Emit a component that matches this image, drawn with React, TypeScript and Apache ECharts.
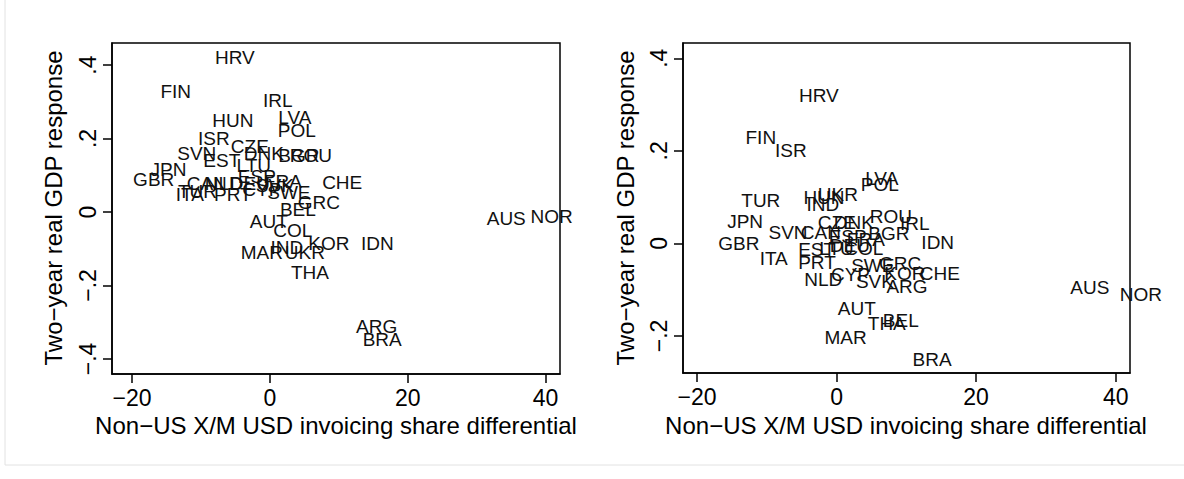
import React, { useEffect, useRef } from "react";
import * as echarts from "echarts";

// Left panel
const leftCountries = ["HRV","FIN","IRL","HUN","LVA","POL","ISR","CZE","SVN","EST","DNK","BGR","ROU","LTU","JPN","GBR","CAN","NLD","DEU","ESP","FRA","SVK","CYP","ITA","TUR","PRT","SWE","CHE","GRC","BEL","AUT","COL","IND","KOR","IDN","MAR","UKR","THA","ARG","BRA","AUS","NOR"];
const leftX = [-5.08,-13.65,1.16,-5.37,3.63,3.92,-8.13,-2.9,-10.6,-6.97,-0.87,4.21,5.95,-2.32,-14.7,-16.85,-9.15,-6.68,-2.9,-1.89,1.89,0.73,-1.16,-11.6,-10.5,-5.37,2.76,10.5,7.12,4.07,-0.15,3.34,2.47,8.57,15.6,-1.16,5.08,5.81,15.5,16.3,34.3,40.9];
const leftY = [0.421,0.328,0.304,0.25,0.258,0.222,0.2,0.178,0.159,0.141,0.16,0.155,0.154,0.127,0.116,0.089,0.078,0.078,0.078,0.097,0.084,0.072,0.061,0.048,0.056,0.048,0.053,0.081,0.026,0.007,-0.025,-0.05,-0.096,-0.085,-0.085,-0.11,-0.11,-0.164,-0.311,-0.346,-0.017,-0.012];

// Right panel
const rightCountries = ["HRV","FIN","ISR","LVA","POL","TUR","HUN","UKR","IND","JPN","CZE","DNK","ROU","IRL","SVN","CAN","ESP","FRA","BGR","IDN","GBR","EST","LTU","DEU","COL","ITA","PRT","SWE","GRC","CYP","KOR","CHE","SVK","NLD","ARG","AUT","THA","BEL","MAR","BRA","AUS","NOR"];
const rightX = [-2.54,-10.85,-6.55,6.48,6.2,-10.85,-1.8,0.19,-1.96,-13.1,0.04,2.48,7.78,11.2,-6.95,-2.25,1.6,4.2,7.5,14.5,-14.0,-2.85,0.0,1.9,3.9,-9.0,-2.8,5.2,9.1,2.0,9.8,14.8,5.5,-1.9,10.1,2.9,7.2,9.2,1.3,13.7,36.3,43.6];
const rightY = [0.32,0.229,0.201,0.141,0.128,0.093,0.1,0.106,0.083,0.048,0.046,0.046,0.059,0.044,0.024,0.024,0.016,0.009,0.022,0.001,-0.001,-0.014,-0.01,-0.004,-0.01,-0.032,-0.042,-0.047,-0.043,-0.068,-0.064,-0.064,-0.083,-0.079,-0.094,-0.14,-0.172,-0.167,-0.204,-0.25,-0.096,-0.11];

const xTicks = [-20, 0, 20, 40];
const yTicksLeft = [-0.4, -0.2, 0, 0.2, 0.4];
const yTicksRight = [-0.2, 0, 0.2, 0.4];
const xTitle = "Non\u2212US X/M USD invoicing share differential";
const yTitle = "Two\u2212year real GDP response";

const FONT = "'Liberation Sans', Arial, Helvetica, sans-serif";

const fmtX = (v: number) => (v < 0 ? "\u2212" + Math.abs(v) : String(v));
const fmtY = (v: number) => {
  if (Math.abs(v) < 1e-9) return "0";
  const s = String(Math.abs(Math.round(v * 10) / 10)).replace(/^0/, "");
  return (v < 0 ? "\u2212" : "") + s;
};

function makeX(gridIndex: number, min: number, max: number) {
  return {
    type: "value",
    gridIndex,
    min,
    max,
    axisLine: { show: true, onZero: false, lineStyle: { color: "#000", width: 1.5 } },
    axisTick: { show: true, inside: false, length: 9, lineStyle: { color: "#000", width: 1.5 }, customValues: xTicks },
    axisLabel: { show: true, customValues: xTicks, formatter: fmtX, fontSize: 23, color: "#000", fontFamily: FONT, margin: 12 },
    splitLine: { show: false },
  };
}

function makeY(gridIndex: number, min: number, max: number, ticks: number[]) {
  return {
    type: "value",
    gridIndex,
    min,
    max,
    axisLine: { show: true, onZero: false, lineStyle: { color: "#000", width: 1.5 } },
    axisTick: { show: true, inside: false, length: 9, lineStyle: { color: "#000", width: 1.5 }, customValues: ticks },
    axisLabel: { show: true, customValues: ticks, formatter: fmtY, fontSize: 23, color: "#000", fontFamily: FONT, rotate: 90, margin: 13 },
    splitLine: { show: false },
  };
}

function makeSeries(idx: number, names: string[], xs: number[], ys: number[]) {
  return {
    type: "scatter",
    xAxisIndex: idx,
    yAxisIndex: idx,
    symbol: "circle",
    symbolSize: 2,
    clip: false,
    itemStyle: { color: "rgba(0,0,0,0)" },
    label: {
      show: true,
      position: "inside",
      formatter: (p: any) => p.data[2],
      fontSize: 19,
      color: "#111",
      opacity: 1,
      textBorderWidth: 0,
      fontFamily: FONT,
    },
    emphasis: { disabled: true },
    data: names.map((n, i) => [xs[i], ys[i], n]),
  };
}

export default function App() {
  const ref = useRef<HTMLDivElement>(null);
  useEffect(() => {
    if (!ref.current) return;
    const chart = echarts.init(ref.current, null, { renderer: "svg" });
    chart.setOption({
      animation: false,
      backgroundColor: "#fff",
      grid: [
        { left: 112, top: 43, width: 448, height: 331, show: true, borderColor: "#000", borderWidth: 1.5, backgroundColor: "#fff" },
        { left: 683, top: 43, width: 447, height: 330, show: true, borderColor: "#000", borderWidth: 1.5, backgroundColor: "#fff" },
      ],
      xAxis: [makeX(0, -22.9, 42.1), makeX(1, -22.0, 42.05)],
      yAxis: [makeY(0, -0.441, 0.46, yTicksLeft), makeY(1, -0.28, 0.433, yTicksRight)],
      series: [makeSeries(0, leftCountries, leftX, leftY), makeSeries(1, rightCountries, rightX, rightY)],
      graphic: [
        { type: "line", shape: { x1: 5, y1: 0, x2: 5, y2: 465 }, style: { stroke: "#e2e2e2", lineWidth: 1 }, silent: true },
        { type: "line", shape: { x1: 5, y1: 465, x2: 1184, y2: 465 }, style: { stroke: "#e2e2e2", lineWidth: 1 }, silent: true },
        { type: "text", x: 336, y: 425, style: { text: xTitle, fontSize: 24, fill: "#000", fontFamily: FONT, textAlign: "center", textVerticalAlign: "middle" } },
        { type: "text", x: 906, y: 425, style: { text: xTitle, fontSize: 24, fill: "#000", fontFamily: FONT, textAlign: "center", textVerticalAlign: "middle" } },
        { type: "text", x: 53, y: 208, rotation: Math.PI / 2, style: { text: yTitle, fontSize: 24, fill: "#000", fontFamily: FONT, textAlign: "center", textVerticalAlign: "middle" } },
        { type: "text", x: 625, y: 208, rotation: Math.PI / 2, style: { text: yTitle, fontSize: 24, fill: "#000", fontFamily: FONT, textAlign: "center", textVerticalAlign: "middle" } },
      ],
    });
    return () => chart.dispose();
  }, []);
  return <div ref={ref} style={{ position: "fixed", left: 0, top: 0, width: 1184, height: 479, background: "#fff" }} />;
}
